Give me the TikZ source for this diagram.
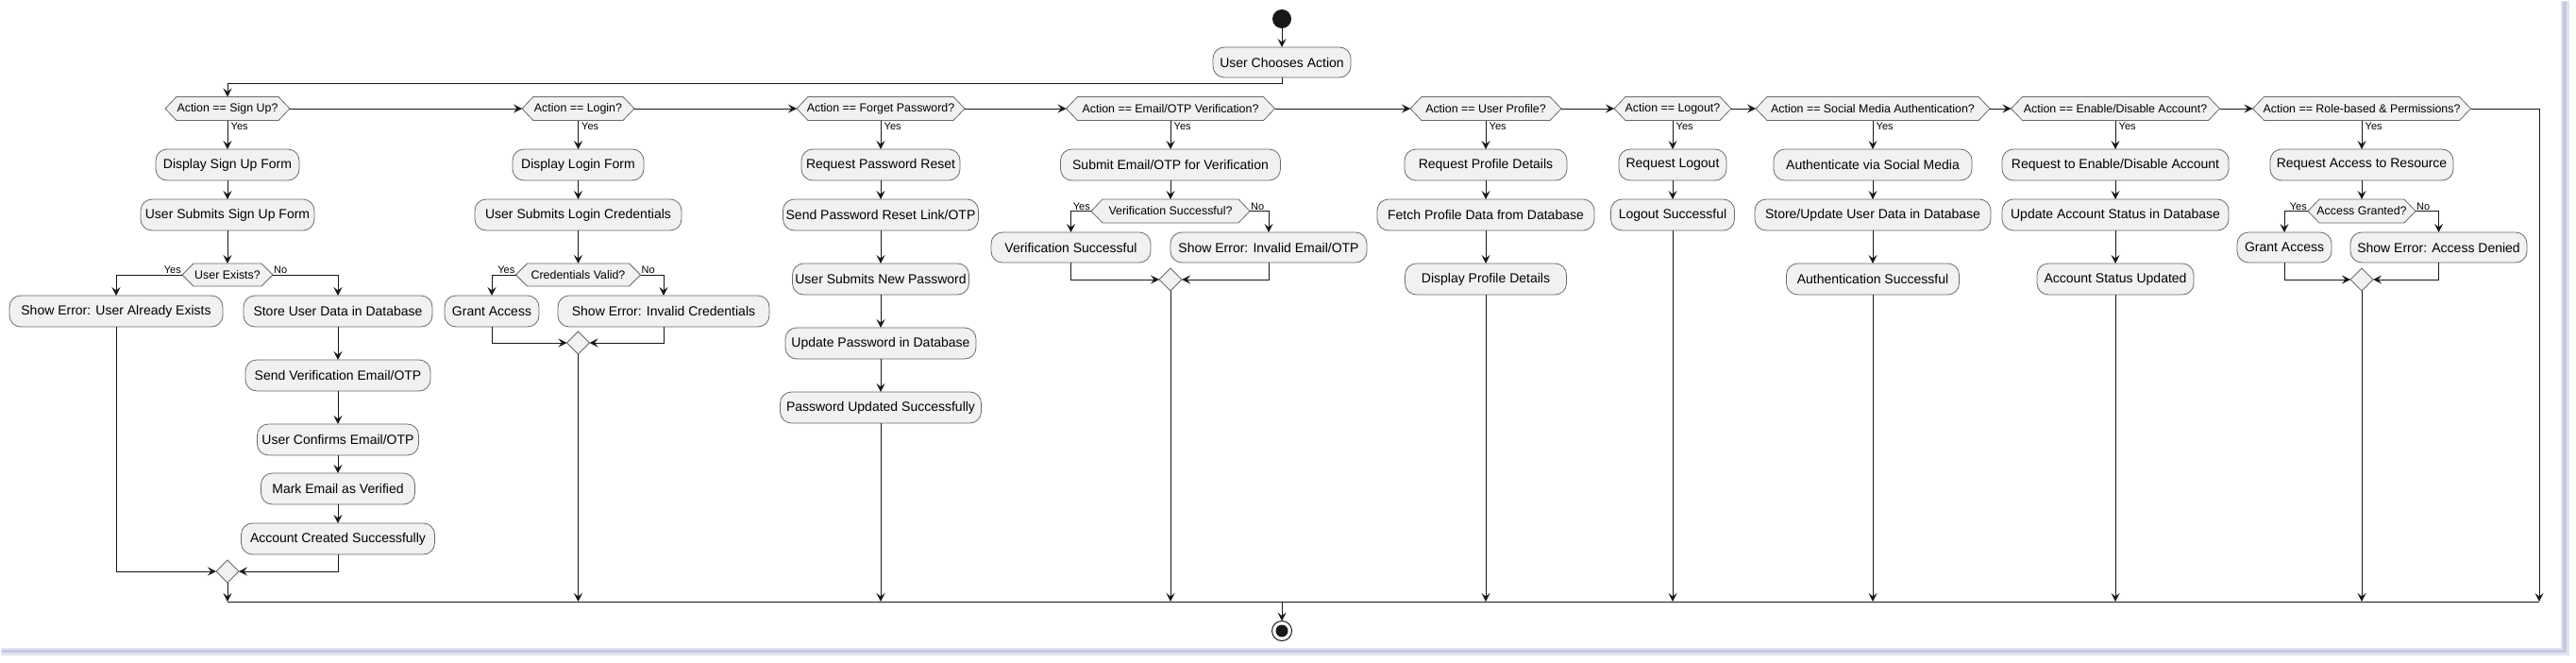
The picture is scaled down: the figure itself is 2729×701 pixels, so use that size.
\documentclass[tikz,border=0pt]{standalone}
\usepackage{fontspec}
\setmainfont{Liberation Sans}
\usetikzlibrary{arrows.meta,shapes.geometric,calc}
\pgfdeclarelayer{bg}
\pgfsetlayers{bg,main}
\definecolor{boxfill}{HTML}{F1F1F1}
\definecolor{boxline}{HTML}{6A6A6A}
\definecolor{lineclr}{HTML}{181818}
\definecolor{shadowclr}{HTML}{C5C8E0}
\definecolor{shadowlt}{HTML}{E2E3F0}
\tikzset{
 actbox/.style={rectangle, rounded corners=12pt, draw=boxline, line width=0.8pt, fill=boxfill, inner sep=0pt, outer sep=0pt, minimum height=33pt, font=\fontsize{14}{16}\selectfont, text=black},
 hexnode/.style={rectangle, inner sep=0pt, outer sep=0pt, minimum height=25pt, font=\fontsize{12.4}{14}\selectfont},
 hexdraw/.style={draw=boxline, line width=0.8pt, fill=boxfill},
 mergebox/.style={diamond, draw=boxline, line width=0.8pt, fill=boxfill, minimum width=24pt, minimum height=24pt, inner sep=0pt, outer sep=0pt},
 flow/.style={draw=lineclr, line width=1pt, -{Stealth[length=9pt,width=9pt,inset=3.5pt]}},
 plain/.style={draw=lineclr, line width=1pt},
 lbl/.style={font=\fontsize{11}{12}\selectfont, inner sep=1pt},
}
\newcommand\hexshape[1]{\begin{pgfonlayer}{bg}\draw[hexdraw] (#1.west) -- ([xshift=12pt]#1.north west) -- ([xshift=-12pt]#1.north east) -- (#1.east) -- ([xshift=-12pt]#1.south east) -- ([xshift=12pt]#1.south west) -- cycle;\end{pgfonlayer}}
\begin{document}
\begin{tikzpicture}[x=1pt,y=-1pt]
\useasboundingbox (0,0) rectangle (2729,701);
% frame shadow
\fill[shadowlt] (2713,1) rectangle (2722,694);
\fill[shadowlt] (1,686) rectangle (2722,694);
\fill[shadowclr] (2715,2) rectangle (2719,691);
\fill[shadowclr] (2,688) rectangle (2719,691);

% start / top
\node[circle, fill=lineclr, minimum size=20pt, inner sep=0pt, outer sep=0pt] (start) at (1358,20) {};
\node[actbox, minimum width=146pt, minimum height=32pt] (uca) at (1358,66) {User Chooses Action};

% action hexagons
\node[hexnode, minimum width=132pt] (d1) at (241,115) {Action == Sign Up?};
\node[hexnode, minimum width=119pt] (d2) at (612.5,115) {Action == Login?};
\node[hexnode, minimum width=178pt] (d3) at (933,115) {Action == Forget Password?};
\node[hexnode, minimum width=221pt] (d4) at (1240,115) {Action == Email/OTP Verification?};
\node[hexnode, minimum width=160pt] (d5) at (1574,115) {Action == User Profile?};
\node[hexnode, minimum width=124pt] (d6) at (1772,115) {Action == Logout?};
\node[hexnode, minimum width=248pt] (d7) at (1984,115) {Action == Social Media Authentication?};
\node[hexnode, minimum width=221pt] (d8) at (2241,115) {Action == Enable/Disable Account?};
\node[hexnode, minimum width=231pt] (d9) at (2502,115) {Action == Role-based \& Permissions?};
\foreach \n in {d1,d2,d3,d4,d5,d6,d7,d8,d9} {\hexshape{\n}}

% Sign up column
\node[actbox, minimum width=152pt] (su1) at (241,174.5) {Display Sign Up Form};
\node[actbox, minimum width=184pt] (su2) at (241,227.5) {User Submits Sign Up Form};
\node[hexnode, minimum width=96pt, minimum height=24pt] (sud) at (241,291) {User Exists?};
\hexshape{sud}
\node[actbox, minimum width=226pt] (sue) at (123,329.5) {Show Error: User Already Exists};
\node[actbox, minimum width=200pt] (sus) at (358,329.5) {Store User Data in Database};
\node[actbox, minimum width=196pt] (su3) at (358,397.5) {Send Verification Email/OTP};
\node[actbox, minimum width=171pt] (su4) at (358,465.5) {User Confirms Email/OTP};
\node[actbox, minimum width=163pt] (su5) at (358,517.5) {Mark Email as Verified};
\node[actbox, minimum width=205pt] (su6) at (358,570.5) {Account Created Successfully};
\node[mergebox] (sum) at (241,605) {};

% Login column
\node[actbox, minimum width=139pt] (li1) at (612.5,174.5) {Display Login Form};
\node[actbox, minimum width=219pt] (li2) at (612.5,227.5) {User Submits Login Credentials};
\node[hexnode, minimum width=132pt, minimum height=24pt] (lid) at (612.5,291) {Credentials Valid?};
\hexshape{lid}
\node[actbox, minimum width=100pt] (lig) at (521,329.5) {Grant Access};
\node[actbox, minimum width=224pt] (lie) at (703,329.5) {Show Error: Invalid Credentials};
\node[mergebox] (lim) at (612.5,363) {};

% Forget password column
\node[actbox, minimum width=168pt] (fp1) at (933,174.5) {Request Password Reset};
\node[actbox, minimum width=207pt] (fp2) at (933,227.5) {Send Password Reset Link/OTP};
\node[actbox, minimum width=187pt] (fp3) at (933,295.5) {User Submits New Password};
\node[actbox, minimum width=202pt] (fp4) at (933,363.5) {Update Password in Database};
\node[actbox, minimum width=213pt] (fp5) at (933,431.5) {Password Updated Successfully};

% Email/OTP column
\node[actbox, minimum width=233pt] (ev1) at (1240,174.5) {Submit Email/OTP for Verification};
\node[hexnode, minimum width=168pt] (evd) at (1240,223.5) {Verification Successful?};
\hexshape{evd}
\node[actbox, minimum width=169pt, minimum height=32pt] (evs) at (1134.5,262) {Verification Successful};
\node[actbox, minimum width=208pt, minimum height=32pt] (eve) at (1344,262) {Show Error: Invalid Email/OTP};
\node[mergebox] (evm) at (1240,296) {};

% Profile column
\node[actbox, minimum width=172pt] (up1) at (1574,174.5) {Request Profile Details};
\node[actbox, minimum width=230pt] (up2) at (1574,227.5) {Fetch Profile Data from Database};
\node[actbox, minimum width=171pt] (up3) at (1574,295.5) {Display Profile Details};

% Logout column
\node[actbox, minimum width=114pt] (lo1) at (1772,174.5) {Request Logout};
\node[actbox, minimum width=131pt] (lo2) at (1772,227.5) {Logout Successful};

% Social media column
\node[actbox, minimum width=210pt] (sm1) at (1984,174.5) {Authenticate via Social Media};
\node[actbox, minimum width=250pt] (sm2) at (1984,227.5) {Store/Update User Data in Database};
\node[actbox, minimum width=183pt] (sm3) at (1984,295.5) {Authentication Successful};

% Enable/disable column
\node[actbox, minimum width=240pt] (ed1) at (2241,174.5) {Request to Enable/Disable Account};
\node[actbox, minimum width=240pt] (ed2) at (2241,227.5) {Update Account Status in Database};
\node[actbox, minimum width=166pt] (ed3) at (2241,295.5) {Account Status Updated};

% Role-based column
\node[actbox, minimum width=194pt] (rb1) at (2502,174.5) {Request Access to Resource};
\node[hexnode, minimum width=114pt] (rbd) at (2502,223.5) {Access Granted?};
\hexshape{rbd}
\node[actbox, minimum width=100pt, minimum height=32pt] (rbg) at (2420,262) {Grant Access};
\node[actbox, minimum width=187pt, minimum height=32pt] (rbe) at (2583.5,262) {Show Error: Access Denied};
\node[mergebox] (rbm) at (2502,296) {};

% end
\coordinate (mL) at (241,637);
\coordinate (mR) at (2690,637);
\coordinate (mEnd) at (1358,637);
\node[circle, draw=lineclr, line width=1pt, fill=white, minimum size=21pt, inner sep=0pt, outer sep=0pt] (stop) at (1358,668) {};
\node[circle, fill=lineclr, minimum size=13pt, inner sep=0pt] (stopdot) at (stop.center) {};

% ---------- connectors ----------
\draw[flow] (start.south) -- (uca.north);
\draw[flow] (uca.south) -- ++(0,6) -| (d1.north);
\draw[flow] (d1.east) -- (d2.west);
\draw[flow] (d2.east) -- (d3.west);
\draw[flow] (d3.east) -- (d4.west);
\draw[flow] (d4.east) -- (d5.west);
\draw[flow] (d5.east) -- (d6.west);
\draw[flow] (d6.east) -- (d7.west);
\draw[flow] (d7.east) -- (d8.west);
\draw[flow] (d8.east) -- (d9.west);
\draw[flow] (d9.east) -| (mR);
\draw[plain] (mL) -- (mR);
\draw[flow] (mEnd) -- (stop.north);

% yes labels for action hexagons
\foreach \n in {d1,d2,d3,d4,d5,d6,d7,d8,d9} {\node[lbl, anchor=north west] (y\n) at ([xshift=2.5pt,yshift=-1pt]\n.south) {Yes};}

% sign up
\draw[flow] (d1.south) -- (su1.north);
\draw[flow] (su1.south) -- (su2.north);
\draw[flow] (su2.south) -- (sud.north);
\draw[flow] (sud.west) -| (sue.north);
\draw[flow] (sud.east) -| (sus.north);
\node[lbl, anchor=south east] (sudy) at (sud.west) {Yes};
\node[lbl, anchor=south west] (sudn) at (sud.east) {No};
\draw[flow] (sus.south) -- (su3.north);
\draw[flow] (su3.south) -- (su4.north);
\draw[flow] (su4.south) -- (su5.north);
\draw[flow] (su5.south) -- (su6.north);
\draw[flow] (sue.south) |- (sum.west);
\draw[flow] (su6.south) |- (sum.east);
\draw[flow] (sum.south) -- (mL);

% login
\draw[flow] (d2.south) -- (li1.north);
\draw[flow] (li1.south) -- (li2.north);
\draw[flow] (li2.south) -- (lid.north);
\draw[flow] (lid.west) -| (lig.north);
\draw[flow] (lid.east) -| (lie.north);
\node[lbl, anchor=south east] (lidy) at (lid.west) {Yes};
\node[lbl, anchor=south west] (lidn) at (lid.east) {No};
\draw[flow] (lig.south) |- (lim.west);
\draw[flow] (lie.south) |- (lim.east);
\draw[flow] (lim.south) -- (lim.south |- mL);

% forget password
\draw[flow] (d3.south) -- (fp1.north);
\draw[flow] (fp1.south) -- (fp2.north);
\draw[flow] (fp2.south) -- (fp3.north);
\draw[flow] (fp3.south) -- (fp4.north);
\draw[flow] (fp4.south) -- (fp5.north);
\draw[flow] (fp5.south) -- (fp5.south |- mL);

% email/otp
\draw[flow] (d4.south) -- (ev1.north);
\draw[flow] (ev1.south) -- (evd.north);
\draw[flow] (evd.west) -| (evs.north);
\draw[flow] (evd.east) -| (eve.north);
\node[lbl, anchor=south east] (evdy) at (evd.west) {Yes};
\node[lbl, anchor=south west] (evdn) at (evd.east) {No};
\draw[flow] (evs.south) |- (evm.west);
\draw[flow] (eve.south) |- (evm.east);
\draw[flow] (evm.south) -- (evm.south |- mL);

% profile
\draw[flow] (d5.south) -- (up1.north);
\draw[flow] (up1.south) -- (up2.north);
\draw[flow] (up2.south) -- (up3.north);
\draw[flow] (up3.south) -- (up3.south |- mL);

% logout
\draw[flow] (d6.south) -- (lo1.north);
\draw[flow] (lo1.south) -- (lo2.north);
\draw[flow] (lo2.south) -- (lo2.south |- mL);

% social
\draw[flow] (d7.south) -- (sm1.north);
\draw[flow] (sm1.south) -- (sm2.north);
\draw[flow] (sm2.south) -- (sm3.north);
\draw[flow] (sm3.south) -- (sm3.south |- mL);

% enable/disable
\draw[flow] (d8.south) -- (ed1.north);
\draw[flow] (ed1.south) -- (ed2.north);
\draw[flow] (ed2.south) -- (ed3.north);
\draw[flow] (ed3.south) -- (ed3.south |- mL);

% role-based
\draw[flow] (d9.south) -- (rb1.north);
\draw[flow] (rb1.south) -- (rbd.north);
\draw[flow] (rbd.west) -| (rbg.north);
\draw[flow] (rbd.east) -| (rbe.north);
\node[lbl, anchor=south east] (rbdy) at (rbd.west) {Yes};
\node[lbl, anchor=south west] (rbdn) at (rbd.east) {No};
\draw[flow] (rbg.south) |- (rbm.west);
\draw[flow] (rbe.south) |- (rbm.east);
\draw[flow] (rbm.south) -- (rbm.south |- mL);
\end{tikzpicture}
\end{document}
